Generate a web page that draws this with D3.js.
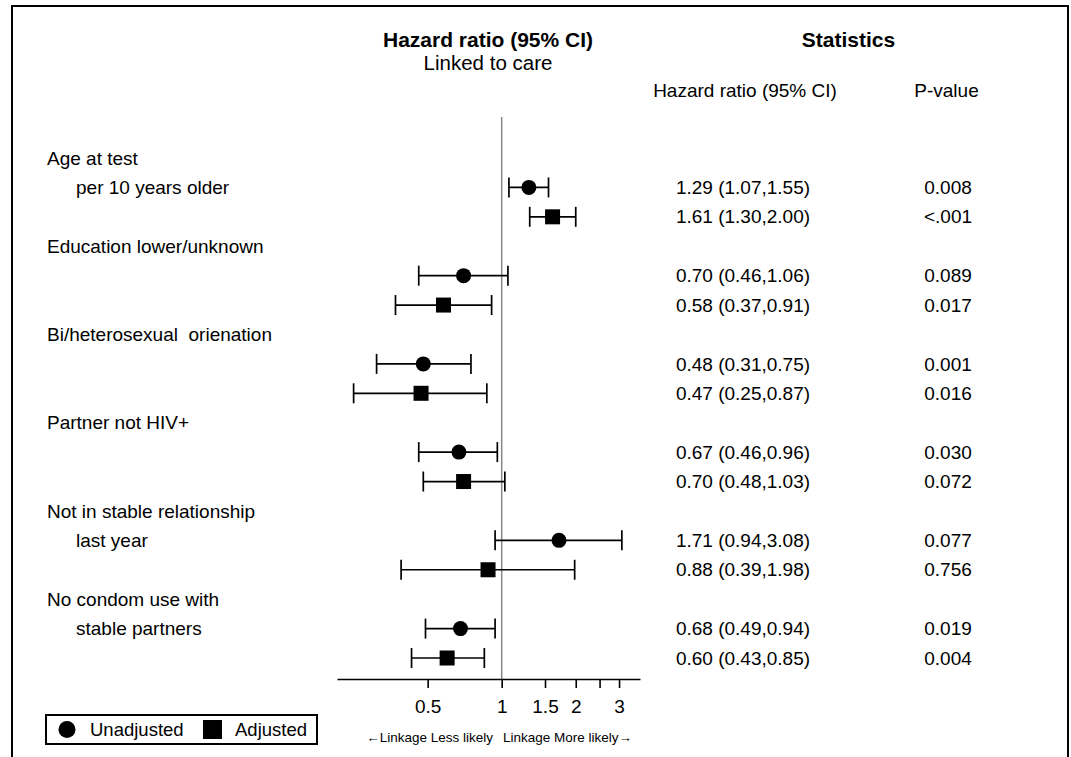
<!DOCTYPE html>
<html>
<head>
<meta charset="utf-8">
<script src="https://cdn.jsdelivr.net/npm/d3@7"></script>
<style>
  body { margin: 0; background: #fff; }
  text { font-family: "Liberation Sans", Arial, sans-serif; fill: #000; }
  .rowlabel { white-space: pre; }
</style>
</head>
<body>
<div id="chart"></div>
<script>
// Label lines down the left side (indent 1 = sub label)
var labelLines = [
  { text: "Age at test", indent: 0 },
  { text: "per 10 years older", indent: 1 },
  { text: "", indent: 0 },
  { text: "Education lower/unknown", indent: 0 },
  { text: "", indent: 0 },
  { text: "", indent: 0 },
  { text: "Bi/heterosexual  orienation", indent: 0 },
  { text: "", indent: 0 },
  { text: "", indent: 0 },
  { text: "Partner not HIV+", indent: 0 },
  { text: "", indent: 0 },
  { text: "", indent: 0 },
  { text: "Not in stable relationship", indent: 0 },
  { text: "last year", indent: 1 },
  { text: "", indent: 0 },
  { text: "No condom use with", indent: 0 },
  { text: "stable partners", indent: 1 },
  { text: "", indent: 0 }
];

// Estimates: line index, model, hazard ratio, lower, upper, p-value
var rowLine  = [1, 2, 4, 5, 7, 8, 10, 11, 13, 14, 16, 17];
var rowModel = ["Unadjusted", "Adjusted", "Unadjusted", "Adjusted", "Unadjusted", "Adjusted",
                "Unadjusted", "Adjusted", "Unadjusted", "Adjusted", "Unadjusted", "Adjusted"];
var hr    = [1.29, 1.61, 0.70, 0.58, 0.48, 0.47, 0.67, 0.70, 1.71, 0.88, 0.68, 0.60];
var lower = [1.07, 1.30, 0.46, 0.37, 0.31, 0.25, 0.46, 0.48, 0.94, 0.39, 0.49, 0.43];
var upper = [1.55, 2.00, 1.06, 0.91, 0.75, 0.87, 0.96, 1.03, 3.08, 1.98, 0.94, 0.85];
var pval  = ["0.008", "<.001", "0.089", "0.017", "0.001", "0.016",
             "0.030", "0.072", "0.077", "0.756", "0.019", "0.004"];

var tickValues = [0.5, 1, 1.5, 2, 2.5, 3];
var tickLabels = ["0.5", "1", "1.5", "2", "", "3"];

var rows = hr.map(function(d, i) {
  return { line: rowLine[i], model: rowModel[i], hr: d, lo: lower[i], hi: upper[i], p: pval[i] };
});

var svgWidth = 1071;
var svgHeight = 757;

var svg = d3.select("#chart")
    .append("svg")
    .attr("width", svgWidth)
    .attr("height", svgHeight);

// outer frame (bottom edge runs off the picture)
svg.append("rect")
    .attr("x", 12).attr("y", 6)
    .attr("width", 1056).attr("height", 760)
    .attr("fill", "none")
    .attr("stroke", "#000")
    .attr("stroke-width", 2);

// scales
var xScale = d3.scaleLog()
    .domain([0.214, 3.65])
    .range([337, 640]);

var yScale = d3.scalePoint()
    .domain(d3.range(labelLines.length))
    .range([158, 658]);

var axisY = 679;

// headers
svg.append("text")
    .attr("x", 488).attr("y", 47)
    .attr("text-anchor", "middle")
    .attr("font-size", "21px").attr("font-weight", "bold")
    .text("Hazard ratio (95% CI)");
svg.append("text")
    .attr("x", 488).attr("y", 69.5)
    .attr("text-anchor", "middle")
    .attr("font-size", "20.5px")
    .text("Linked to care");
svg.append("text")
    .attr("x", 848.5).attr("y", 47)
    .attr("text-anchor", "middle")
    .attr("font-size", "21px").attr("font-weight", "bold")
    .text("Statistics");
svg.append("text")
    .attr("x", 745).attr("y", 96.5)
    .attr("text-anchor", "middle")
    .attr("font-size", "19px")
    .text("Hazard ratio (95% CI)");
svg.append("text")
    .attr("x", 946.5).attr("y", 96.5)
    .attr("text-anchor", "middle")
    .attr("font-size", "19px")
    .text("P-value");

// row labels
svg.selectAll(".rowlabel")
    .data(labelLines)
    .enter()
    .append("text")
    .attr("class", "rowlabel")
    .attr("x", d => d.indent ? 76 : 47)
    .attr("y", (d, i) => yScale(i))
    .attr("dy", "0.35em")
    .attr("font-size", "19px")
    .text(d => d.text);

// reference line at HR = 1
svg.append("line")
    .attr("x1", xScale(1)).attr("x2", xScale(1))
    .attr("y1", 117).attr("y2", axisY)
    .attr("stroke", "#888")
    .attr("stroke-width", 1.5);

// bottom axis
var bottomAxis = d3.axisBottom(xScale)
    .tickValues(tickValues)
    .tickFormat((d, i) => tickLabels[i])
    .tickSize(9)
    .tickPadding(12)
    .tickSizeOuter(0);

var axisG = svg.append("g")
    .attr("transform", "translate(0," + axisY + ")")
    .call(bottomAxis);
axisG.select(".domain").attr("stroke", "#000").attr("stroke-width", 1.6);
axisG.selectAll(".tick line").attr("stroke", "#000").attr("stroke-width", 1.6);
axisG.selectAll(".tick text")
    .attr("font-size", "19px")
    .attr("font-family", "Liberation Sans, Arial, sans-serif")
    .attr("fill", "#000");

// confidence intervals
var ci = svg.append("g").attr("stroke", "#000").attr("stroke-width", 1.7);
ci.selectAll(".ci")
    .data(rows)
    .enter()
    .append("line")
    .attr("x1", d => xScale(d.lo)).attr("x2", d => xScale(d.hi))
    .attr("y1", d => yScale(d.line)).attr("y2", d => yScale(d.line));
ci.selectAll(".capl")
    .data(rows)
    .enter()
    .append("line")
    .attr("x1", d => xScale(d.lo)).attr("x2", d => xScale(d.lo))
    .attr("y1", d => yScale(d.line) - 10).attr("y2", d => yScale(d.line) + 10);
ci.selectAll(".capr")
    .data(rows)
    .enter()
    .append("line")
    .attr("x1", d => xScale(d.hi)).attr("x2", d => xScale(d.hi))
    .attr("y1", d => yScale(d.line) - 10).attr("y2", d => yScale(d.line) + 10);

// point estimates
svg.selectAll(".circ")
    .data(rows.filter(d => d.model === "Unadjusted"))
    .enter()
    .append("circle")
    .attr("cx", d => xScale(d.hr))
    .attr("cy", d => yScale(d.line))
    .attr("r", 7.5)
    .attr("fill", "#000");
svg.selectAll(".sq")
    .data(rows.filter(d => d.model === "Adjusted"))
    .enter()
    .append("rect")
    .attr("x", d => xScale(d.hr) - 7.5)
    .attr("y", d => yScale(d.line) - 7.5)
    .attr("width", 15).attr("height", 15)
    .attr("fill", "#000");

// statistics columns
svg.selectAll(".hrtext")
    .data(rows)
    .enter()
    .append("text")
    .attr("x", 743)
    .attr("y", d => yScale(d.line))
    .attr("dy", "0.35em")
    .attr("text-anchor", "middle")
    .attr("font-size", "19px")
    .text(d => d.hr.toFixed(2) + " (" + d.lo.toFixed(2) + "," + d.hi.toFixed(2) + ")");
svg.selectAll(".ptext")
    .data(rows)
    .enter()
    .append("text")
    .attr("x", 948)
    .attr("y", d => yScale(d.line))
    .attr("dy", "0.35em")
    .attr("text-anchor", "middle")
    .attr("font-size", "19px")
    .text(d => d.p);

// direction note under the axis
svg.append("text")
    .attr("x", 493).attr("y", 741.5)
    .attr("text-anchor", "end")
    .attr("font-size", "13.5px")
    .text("\u2190Linkage Less likely");
svg.append("text")
    .attr("x", 503).attr("y", 741.5)
    .attr("font-size", "13.5px")
    .text("Linkage More likely\u2192");

// legend
var legend = svg.append("g");
legend.append("rect")
    .attr("x", 46).attr("y", 715)
    .attr("width", 271).attr("height", 29)
    .attr("fill", "#fff")
    .attr("stroke", "#000")
    .attr("stroke-width", 2);
legend.append("circle")
    .attr("cx", 67).attr("cy", 729.5).attr("r", 8.5)
    .attr("fill", "#000");
legend.append("text")
    .attr("x", 90).attr("y", 729.5).attr("dy", "0.35em")
    .attr("font-size", "18.5px")
    .text("Unadjusted");
legend.append("rect")
    .attr("x", 203).attr("y", 720).attr("width", 19).attr("height", 19)
    .attr("fill", "#000");
legend.append("text")
    .attr("x", 235).attr("y", 729.5).attr("dy", "0.35em")
    .attr("font-size", "18.5px")
    .text("Adjusted");
</script>
</body>
</html>
